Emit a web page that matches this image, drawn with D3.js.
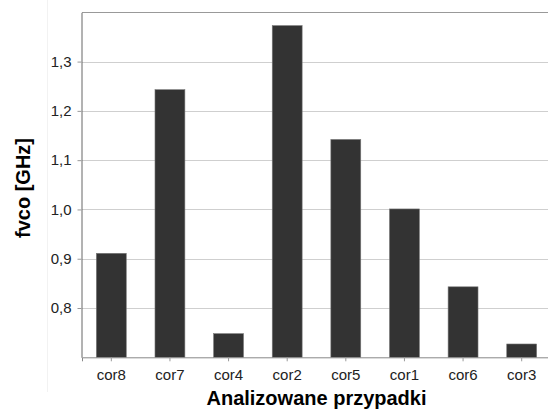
<!DOCTYPE html>
<html>
<head>
<meta charset="utf-8">
<script src="https://cdn.jsdelivr.net/npm/d3@7"></script>
<style>
  body { margin: 0; background: #fff; }
  svg { display: block; font-family: Arial, "Liberation Sans", sans-serif; }
</style>
</head>
<body>
<svg id="chart" width="548" height="410"></svg>
<script>
const categories = ["cor8", "cor7", "cor4", "cor2", "cor5", "cor1", "cor6", "cor3"];
const fvco = [0.911, 1.243, 0.748, 1.373, 1.142, 1.001, 0.843, 0.727];
const yTicks = [0.8, 0.9, 1.0, 1.1, 1.2, 1.3];

const svg = d3.select("#chart");
const plotLeft = 82, plotRight = 551, plotTop = 12.3, plotBottom = 357.3;

const x = d3.scaleBand()
            .domain(categories)
            .range([plotLeft, plotRight])
            .paddingInner(0.49)
            .paddingOuter(0.245);

const y = d3.scaleLinear()
            .domain([0.7, 1.4])
            .range([plotBottom, plotTop]);

// faint frame line left of the labels
svg.append("line")
   .attr("x1", 47.5).attr("x2", 47.5)
   .attr("y1", 0).attr("y2", 392)
   .attr("stroke", "#f2f2f2");

// grid
svg.append("g")
   .selectAll("line")
   .data(yTicks)
   .enter()
   .append("line")
   .attr("x1", plotLeft).attr("x2", plotRight)
   .attr("y1", d => Math.round(y(d)) + 0.5)
   .attr("y2", d => Math.round(y(d)) + 0.5)
   .attr("stroke", "#cfcfcf");

// top border
svg.append("line")
   .attr("x1", plotLeft).attr("x2", plotRight)
   .attr("y1", Math.round(y(1.4)) + 0.5).attr("y2", Math.round(y(1.4)) + 0.5)
   .attr("stroke", "#999");

// bars
svg.append("g")
   .selectAll("rect")
   .data(fvco)
   .enter()
   .append("rect")
   .attr("x", (d, i) => x(categories[i]))
   .attr("y", d => y(d))
   .attr("width", x.bandwidth())
   .attr("height", d => y(0.7) - y(d))
   .attr("fill", "#333")
   .attr("stroke", "#777")
   .attr("stroke-width", 0.6);

// y axis
const yAxis = d3.axisLeft(y)
                .tickValues(yTicks)
                .tickSize(4)
                .tickSizeOuter(0)
                .tickPadding(6)
                .tickFormat(d => d3.format(".1f")(d).replace(".", ","));

const yg = svg.append("g")
              .attr("transform", `translate(${plotLeft - 0.5},0)`)
              .call(yAxis);
yg.select(".domain").attr("stroke", "#666");
yg.selectAll(".tick line").attr("stroke", "#999");
yg.selectAll("text")
  .attr("font-size", 15)
  .attr("fill", "#222")
  .attr("font-family", "Arial, 'Liberation Sans', sans-serif");

// x axis
const xAxis = d3.axisBottom(x)
                .tickSize(4)
                .tickSizeOuter(4)
                .tickPadding(8);

const xg = svg.append("g")
              .attr("transform", `translate(0,${plotBottom})`)
              .call(xAxis);
xg.select(".domain").attr("stroke", "#888");
xg.selectAll(".tick line").attr("stroke", "#999");
xg.selectAll("text")
  .attr("font-size", 15)
  .attr("fill", "#222")
  .attr("font-family", "Arial, 'Liberation Sans', sans-serif");

// axis titles
svg.append("text")
   .attr("x", (plotLeft + plotRight) / 2)
   .attr("y", 405)
   .attr("text-anchor", "middle")
   .attr("font-size", 20)
   .attr("font-weight", "bold")
   .attr("fill", "#000")
   .text("Analizowane przypadki");

svg.append("text")
   .attr("transform", "translate(30,188) rotate(-90)")
   .attr("text-anchor", "middle")
   .attr("font-size", 20)
   .attr("font-weight", "bold")
   .attr("fill", "#000")
   .text("fvco [GHz]");
</script>
</body>
</html>
